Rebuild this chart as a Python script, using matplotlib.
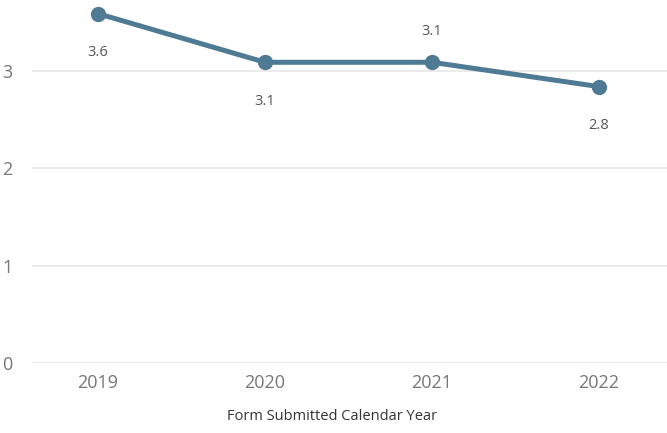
import matplotlib.pyplot as plt

years = ["2019", "2020", "2021", "2022"]
values = [3.59, 3.09, 3.09, 2.84]
labels = ["3.6", "3.1", "3.1", "2.8"]
label_below = [True, True, False, True]

plt.rcParams['font.family'] = ['Open Sans', 'DejaVu Sans']

fig = plt.figure(figsize=(6.67, 4.33), dpi=100)
ax = fig.add_axes([32 / 667, 1 - 363 / 433, 635 / 667, 363 / 433])

x = list(range(len(years)))
ax.plot(x, values, color='#4F7A93', lw=3.6, marker='o', markersize=10,
        solid_capstyle='round', zorder=3)

for xi, v, lab, below in zip(x, values, labels, label_below):
    off = -28 if below else 22
    ax.annotate(lab, (xi, v), xytext=(0, off), textcoords='offset points',
                ha='center', va='center', fontsize=10.5, color='#555555')

ax.set_xlim(-0.395, 3.407)
ax.set_ylim(0, 3.73)
ax.set_yticks([0, 1, 2, 3])
ax.set_xticks(x)
ax.set_xticklabels(years)
ax.grid(axis='y', color='#e6e6e6', lw=1.2)
ax.set_axisbelow(True)
for s in ax.spines.values():
    s.set_visible(False)
ax.tick_params(length=0, labelcolor='#777777', labelsize=13)
ax.tick_params(axis='y', pad=14)
ax.tick_params(axis='x', pad=8)
ax.set_xlabel("Form Submitted Calendar Year", fontsize=10.5, color='#333333')
ax.xaxis.set_label_coords((332 - 32) / 635, -0.128)

fig.savefig("out.png", dpi=100)
